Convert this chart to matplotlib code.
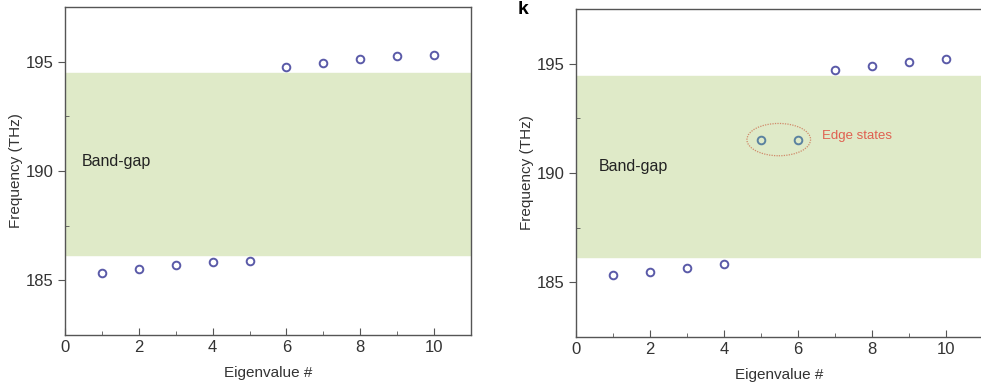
import numpy as np
import matplotlib
matplotlib.use('Agg')
import matplotlib.pyplot as plt
from matplotlib.patches import Ellipse
from matplotlib.ticker import MultipleLocator

plt.rcParams['font.family'] = ['Liberation Sans', 'DejaVu Sans']

# =========================================================
# DATA
# =========================================================
eig_left = [1, 2, 3, 4, 5, 6, 7, 8, 9, 10]
freq_left = [185.34, 185.50, 185.69, 185.84, 185.90, 194.77, 194.93, 195.11, 195.28, 195.32]

eig_right = [1, 2, 3, 4, 7, 8, 9, 10]
freq_right = [185.32, 185.46, 185.64, 185.81, 194.74, 194.91, 195.09, 195.23]

eig_edge = [5, 6]
freq_edge = [191.49, 191.49]

gap_left = (186.16, 194.48)
gap_right = (186.16, 194.44)

marker_col = '#5a5aa8'
edge_col = '#5a82a0'
spine_col = '#555555'
band_col = '#dfeac8'


def style_axes(ax):
    ax.set_xlim(0, 11)
    ax.set_ylim(182.5, 197.5)
    ax.xaxis.set_major_locator(MultipleLocator(2))
    ax.xaxis.set_minor_locator(MultipleLocator(1))
    ax.yaxis.set_major_locator(MultipleLocator(5))
    ax.yaxis.set_minor_locator(MultipleLocator(2.5))
    ax.tick_params(axis='x', which='both', direction='in', colors=spine_col,
                   labelcolor='#333333', labelsize=12)
    ax.tick_params(axis='x', which='major', length=5)
    ax.tick_params(axis='x', which='minor', length=3)
    ax.tick_params(axis='y', which='major', direction='out', length=5,
                   colors=spine_col, labelcolor='#333333', labelsize=12)
    ax.tick_params(axis='y', which='minor', direction='in', length=3, colors=spine_col)
    for s in ax.spines.values():
        s.set_color(spine_col)
        s.set_linewidth(1.0)
    ax.set_xlabel('Eigenvalue #', fontsize=11, color='#333333', labelpad=8)
    ax.set_ylabel('Frequency (THz)', fontsize=11, color='#333333', labelpad=2)


fig = plt.figure(figsize=(9.81, 3.87), dpi=100)
W, H = 981, 387
ax1 = fig.add_axes([65 / W, (H - 335) / H, 406 / W, 328 / H])
ax2 = fig.add_axes([576 / W, (H - 336.7) / H, 407 / W, 327.4 / H])

# left panel
ax1.axhspan(gap_left[0], gap_left[1], color=band_col, zorder=0)
ax1.plot(eig_left, freq_left, 'o', mfc='none', mec=marker_col, mew=1.4, ms=5.5)
ax1.text(0.45, 190.45, 'Band-gap', fontsize=11.5, color='#222222', va='center')
style_axes(ax1)

# right panel
ax2.axhspan(gap_right[0], gap_right[1], color=band_col, zorder=0)
ax2.plot(eig_right, freq_right, 'o', mfc='none', mec=marker_col, mew=1.4, ms=5.5)
ax2.plot(eig_edge, freq_edge, 'o', mfc='none', mec=edge_col, mew=1.4, ms=5.5)
ax2.add_patch(Ellipse((5.48, 191.53), 1.72, 1.48, fill=False,
                      ec='#d08a6a', lw=0.9, ls=(0, (1, 1))))
ax2.text(6.65, 191.7, 'Edge states', fontsize=9.5, color='#e06050', va='center')
ax2.text(0.62, 190.3, 'Band-gap', fontsize=11.5, color='#222222', va='center')
style_axes(ax2)

fig.text(523 / W, 1 - 10 / H, 'k', fontsize=14, fontweight='bold', va='center', ha='center')

fig.savefig('out.png', dpi=100)
